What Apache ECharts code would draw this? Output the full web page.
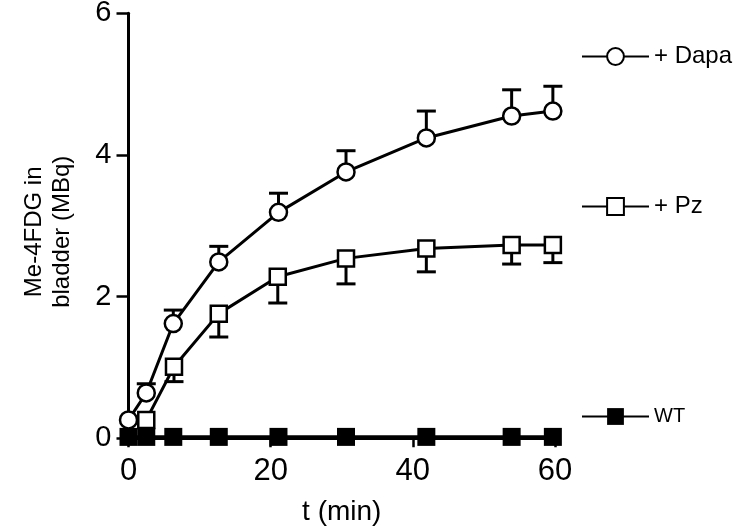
<!DOCTYPE html>
<html>
<head>
<meta charset="utf-8">
<script src="https://cdn.jsdelivr.net/npm/echarts@6/dist/echarts.min.js"></script>
<style>
html,body{margin:0;padding:0;background:#fff;}
#chart{width:733px;height:528px;}
</style>
</head>
<body>
<div id="chart"></div>
<script>
// time points (min)
const times = [0, 2.5, 6.3, 12.7, 21.1, 30.6, 41.9, 53.9, 59.7];
const pzTimes = [2.5, 6.4, 12.7, 21.0, 30.6, 41.9, 53.9, 59.7];
// + Dapa (mean, SEM, bars drawn upward)
const dapaMean = [0.26, 0.64, 1.62, 2.49, 3.19, 3.76, 4.24, 4.55, 4.62];
const dapaSem  = [0, 0.13, 0.19, 0.22, 0.27, 0.30, 0.38, 0.37, 0.35];
// + Pz (mean, SEM, bars drawn downward)
const pzMean = [0.26, 1.01, 1.76, 2.28, 2.54, 2.68, 2.73, 2.73];
const pzSem  = [0, 0.21, 0.33, 0.37, 0.36, 0.33, 0.27, 0.25];
// WT
const wtMean = [0.02, 0.02, 0.02, 0.02, 0.02, 0.02, 0.02, 0.02, 0.02];

const seriesNames = ['+ Dapa', '+ Pz', 'WT'];
const xTicks = [0, 20, 40, 60];
const yTicks = [0, 2, 4, 6];

const FONT = '"Liberation Sans", Arial, Helvetica, sans-serif';

function pairs(xs, ys) { return xs.map((x, i) => [x, ys[i]]); }
function errData(xs, ys, es) { return xs.map((x, i) => [x, ys[i], es[i]]); }

function errRender(dir) {
  return function (params, api) {
    const x = api.value(0), m = api.value(1), s = api.value(2);
    if (!s) return null;
    const p0 = api.coord([x, m]);
    const p1 = api.coord([x, m + dir * s]);
    const hw = 9.5;
    const st = { stroke: '#000', lineWidth: 3 };
    return {
      type: 'group',
      children: [
        { type: 'line', shape: { x1: p0[0], y1: p0[1], x2: p1[0], y2: p1[1] }, style: st },
        { type: 'line', shape: { x1: p1[0] - hw, y1: p1[1], x2: p1[0] + hw, y2: p1[1] }, style: st }
      ]
    };
  };
}

const chart = echarts.init(document.getElementById('chart'), null, { renderer: 'canvas' });

function legendAt(name, top, fontSize) {
  return {
    data: [name],
    left: 581,
    top: top,
    padding: 0,
    orient: 'horizontal',
    itemWidth: 67,
    itemHeight: 21,
    selectedMode: false,
    textStyle: { color: '#000', fontSize: fontSize, fontFamily: FONT }
  };
}

const option = {
  animation: false,
  backgroundColor: '#fff',
  textStyle: { fontFamily: FONT },
  grid: { left: 128.5, top: 13.3, width: 426.5, height: 425, containLabel: false, outerBoundsMode: 'none' },
  legend: [
    legendAt(seriesNames[0], 44.5, 24),
    legendAt(seriesNames[1], 194.5, 24),
    legendAt(seriesNames[2], 406.5, 20)
  ],
  xAxis: {
    type: 'value',
    min: xTicks[0], max: xTicks[xTicks.length - 1], interval: 20,
    name: 't (min)',
    nameLocation: 'middle',
    nameGap: 60,
    nameTextStyle: { color: '#000', fontSize: 28, fontFamily: FONT },
    axisLine: { show: true, onZero: false, lineStyle: { color: '#000', width: 3 } },
    axisTick: { show: true, length: 9, lineStyle: { color: '#000', width: 2.5 } },
    axisLabel: { color: '#000', fontSize: 31, fontFamily: FONT, margin: 18 },
    splitLine: { show: false }
  },
  yAxis: {
    type: 'value',
    min: yTicks[0], max: yTicks[yTicks.length - 1], interval: 2,
    name: 'Me-4FDG in\nbladder (MBq)',
    nameLocation: 'middle',
    nameRotate: 90,
    nameGap: 52,
    nameTextStyle: { color: '#000', fontSize: 24, lineHeight: 28, fontFamily: FONT, align: 'center', padding: [0, 12, 0, 0] },
    axisLine: { show: true, onZero: false, lineStyle: { color: '#000', width: 3 } },
    axisTick: { show: true, length: 12, lineStyle: { color: '#000', width: 2.5 } },
    axisLabel: { color: '#000', fontSize: 29, fontFamily: FONT, margin: 17 },
    splitLine: { show: false }
  },
  series: [
    {
      type: 'custom', name: 'dapaErr', z: 1, clip: false,
      renderItem: errRender(1),
      encode: { x: 0, y: 1 },
      data: errData(times, dapaMean, dapaSem),
      silent: true
    },
    {
      type: 'custom', name: 'pzErr', z: 1, clip: false,
      renderItem: errRender(-1),
      encode: { x: 0, y: 1 },
      data: errData(pzTimes, pzMean, pzSem),
      silent: true
    },
    {
      type: 'line', name: seriesNames[2], z: 3, clip: false,
      data: pairs(times, wtMean),
      symbol: 'rect', symbolSize: 18,
      lineStyle: { color: '#000', width: 3.5 },
      itemStyle: { color: '#000', borderColor: '#000', borderWidth: 0 }
    },
    {
      type: 'line', name: seriesNames[1], z: 4, clip: false,
      data: pairs(pzTimes, pzMean),
      symbol: 'rect', symbolSize: 16,
      lineStyle: { color: '#000', width: 3 },
      itemStyle: { color: '#fff', borderColor: '#000', borderWidth: 2.5 }
    },
    {
      type: 'line', name: seriesNames[0], z: 5, clip: false,
      data: pairs(times, dapaMean),
      symbol: 'circle', symbolSize: 17,
      lineStyle: { color: '#000', width: 3 },
      itemStyle: { color: '#fff', borderColor: '#000', borderWidth: 2.5 }
    }
  ]
};

chart.setOption(option);
</script>
</body>
</html>
